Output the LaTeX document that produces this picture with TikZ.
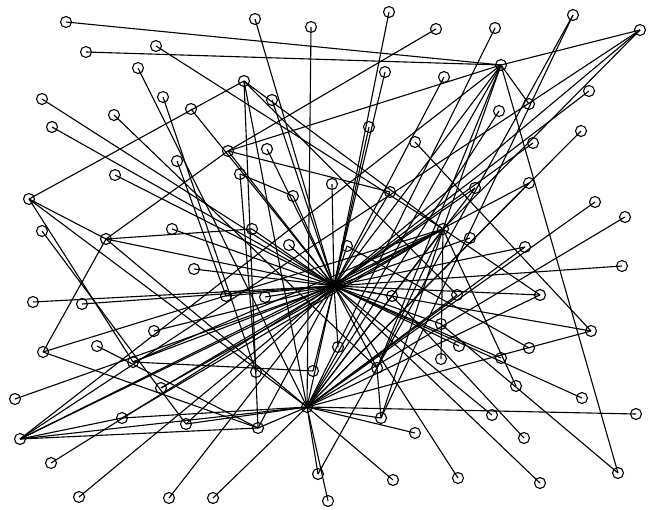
\documentclass[tikz,border=0pt]{standalone}
\usepackage{tikz}

\begin{document}
\begin{tikzpicture}[x=0.03cm, y=-0.03cm, line width=0.95pt,
    vtx/.style={draw, circle, inner sep=0pt, minimum size=0.33cm}]
    \useasboundingbox (0,0) rectangle (651,510);
    % vertices (pixel positions, y downwards)
    \foreach \n/\x/\y in {n1/66/22, n2/86/52, n3/156/46, n4/138/68, n5/163/97, n6/42/99, n7/114/115, n8/52/127,
        n9/115/175, n10/191/109, A/244/81, n12/272/100, n13/255/19, n14/311/27, D/228/151, n16/267/149,
        n17/177/161, n18/240/174, n19/389/12, n20/436/29, n21/385/72, n22/444/77, n23/369/127, n24/415/142,
        n25/495/28, n26/573/15, R/640/30, T/501/65, n29/529/104, n30/499/111, n31/589/91, n32/581/131,
        n33/533/143, n34/529/183, n35/29/199, n36/42/231, G/106/239, n38/33/302, n39/82/304, n40/154/331,
        n41/43/352, n42/97/346, n43/172/229, n44/252/229, n45/289/245, n46/293/196, n47/332/184, n48/194/269,
        n49/226/296, n50/265/297, C/334/286, n51/390/192, n52/475/188, E/443/229, n53/470/238, n54/347/246,
        n55/392/296, n56/457/295, n57/441/324, n58/338/347, n59/595/202, n60/625/217, n61/525/247, n62/622/266,
        n63/540/295, n64/591/331, n65/529/348, n66/133/362, n67/161/388, n68/15/399, n69/122/418, L/20/439,
        n70/51/463, n71/79/497, n72/169/498, n73/256/372, n74/313/371, n75/186/424, n76/258/428, B/307/407,
        n77/318/474, n78/213/498, n79/328/501, F/377/368, n81/441/359, n82/459/346, n83/381/418, n84/415/433,
        n85/393/480, n86/458/478, n87/492/415, n88/501/358, n89/516/386, n90/582/398, n91/636/414, n92/524/438,
        n93/618/473, n94/540/483}
        {\node[vtx] (\n) at (\x,\y) {};}
    % stars round the hubs
    \foreach \a in {n1,n2,D,R,n93,n29,E,L,B,C,F} {\draw (T.center) -- (\a.center);}
    \foreach \a in {n6,n8,n9,n10,n12,n13,n16,n19,n21,n22,n23,D,n31,n33,R,n34,n38,n39,n40,G,n43,n44,n45,
        n46,n47,n48,n49,n50,n51,n52,n53,n54,n55,n57,n58,n61,n62,n63,n64,n67,n68,n70,n71,n72,n74,n75,n76,
        F,n82,n86,n87,n88,n90,n94,L,B,E,n66} {\draw (C.center) -- (\a.center);}
    \foreach \a in {n4,n14,n35,G,L,n69,n75,n76,n78,n77,n79,n85,n84,n83,n91,n64,n63,n61,n60,n59,n56,n52,
        n34,A,n25,n32,n30,E} {\draw (B.center) -- (\a.center);}
    \foreach \a in {n3,L,n41,n66,n67,n69,n83,n89,n63,R,A,n81,F} {\draw (E.center) -- (\a.center);}
    % remaining edges
    \foreach \a/\b in {R/L, n26/F, n26/n83, n24/n64, D/n20, D/n51, D/G, A/n35, A/n76, A/n56, n5/n73,
        n17/n49, n18/n46, n18/n73, G/n35, G/n41, G/n44, n35/n66, n36/n75, n41/n76, n42/n76, n54/n65,
        n55/n92, n57/n93, n66/n74, L/n76, L/n69, n77/F, n83/F, n7/F}
        {\draw (\a.center) -- (\b.center);}
\end{tikzpicture}
\end{document}
